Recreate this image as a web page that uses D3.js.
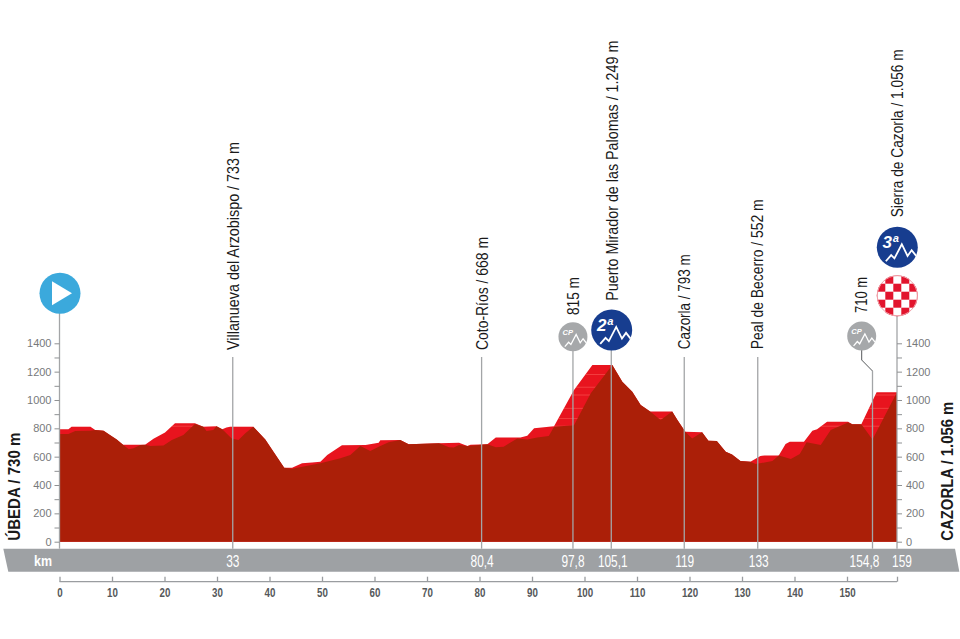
<!DOCTYPE html>
<html>
<head>
<meta charset="utf-8">
<title>Perfil de etapa</title>
<script src="https://cdn.jsdelivr.net/npm/d3@7"></script>
<style>
	html, body { margin: 0; padding: 0; background: #fff; }
	svg { display: block; }
	text { font-family: "Liberation Sans", sans-serif; }
	.elev text { font-size: 11px; fill: #77797b; }
	.elev line { stroke: #8f9193; }
	.kmAxis text { font-size: 12.5px; font-weight: bold; fill: #55585a; }
	.kmAxis line, .kmAxis path { stroke: #9a9da0; stroke-width: 1.3; fill: none; }
</style>
</head>
<body>
<svg id="chart" width="960" height="639"></svg>
<script>
// top outline of the profile (bright red)
const upperKm = [0, 1.7, 2.3, 5.9, 6.8, 8.4, 9.6, 10.9, 12.1, 16.3, 17.9, 20.1, 22, 25.8, 27.4, 29.9, 31, 31.8, 32.5, 36.9, 39.2, 42.8, 44.3, 46.2, 48.1, 49.7, 51, 53.8, 58.3, 60.8, 61.1, 64.9, 66.5, 72.3, 76.1, 77.7, 78.3, 81.5, 83.1, 87.8, 89.1, 90.4, 94.2, 98, 101.5, 105.3, 107.2, 109.1, 110.7, 112.5, 116.7, 117.7, 119.2, 122.4, 123.6, 125.2, 126.9, 128.1, 129.7, 131.6, 133.5, 134.3, 137, 138.3, 139.1, 141.8, 143.4, 144.3, 146.2, 150.2, 151, 152.7, 155.5, 159];
const upperElev = [793, 793, 812, 812, 788, 783, 753, 722, 685, 685, 727, 770, 835, 835, 812, 814, 793, 805, 812, 812, 722, 522, 522, 553, 558, 565, 612, 680, 682, 699, 715, 718, 687, 694, 699, 675, 685, 687, 736, 736, 748, 800, 814, 1070, 1247, 1247, 1129, 1059, 965, 918, 918, 859, 776, 772, 713, 711, 635, 616, 569, 565, 605, 609, 609, 689, 706, 706, 783, 793, 847, 847, 828, 828, 1054, 1054];
// lower edge of the bright facet (dark red front)
const lowerKm = [0, 1.7, 3, 5.9, 6.8, 8.4, 9.6, 10.9, 12.1, 13.2, 14.1, 15.4, 16.3, 17.3, 19.8, 21.4, 23.6, 25.8, 27.4, 28, 29.3, 29.9, 31, 32.8, 34.1, 35.4, 36.9, 39.2, 42.8, 44.3, 49.7, 53.5, 55.4, 57.3, 59.2, 60.8, 62.7, 64.9, 66.5, 72.3, 74.2, 75.1, 76.1, 77.7, 81.5, 83.1, 84.6, 87.2, 89.1, 91, 93.2, 94.2, 98, 101.2, 105.3, 107.2, 109.1, 110.7, 112.5, 114.5, 116.7, 117.7, 119.2, 120.5, 122.4, 123.6, 125.2, 126.9, 128.1, 129.7, 131.6, 132.6, 135.8, 137, 139.3, 141, 142.3, 145, 146.9, 150.2, 151, 152.7, 154.8, 159];
const lowerElev = [760, 760, 781, 783, 788, 783, 753, 722, 685, 652, 659, 682, 685, 675, 678, 718, 753, 830, 812, 781, 788, 814, 793, 729, 718, 765, 812, 722, 522, 515, 553, 588, 612, 675, 640, 670, 701, 718, 687, 694, 666, 664, 682, 675, 687, 666, 670, 729, 722, 736, 746, 812, 821, 1047, 1247, 1129, 1059, 965, 918, 859, 918, 859, 776, 729, 772, 713, 711, 635, 616, 569, 565, 548, 569, 609, 583, 619, 701, 682, 788, 842, 828, 828, 722, 1054];
// faint lines across the bright facet
const facetElev = [1180, 1090, 1035, 941, 870, 815];

const elevTicks = d3.range(0, 1500, 100);
const kmTicks = d3.range(0, 160, 10).concat([159]);

// labelled points along the route
const passKm = [33, 80.4, 97.8, 105.1, 119, 133, 154.8, 159];
const passLabels = ["33", "80,4", "97,8", "105,1", "119", "133", "154,8", "159"];
const labelShift = [0, 0.5, 0, 1.5, 0.5, 1, -8, 5];
const passNames = ["Villanueva del Arzobispo / 733 m", "Coto-Ríos / 668 m", "815 m", "Puerto Mirador de las Palomas / 1.249 m", "Cazorla / 793 m", "Peal de Becerro / 552 m", "710 m", "Sierra de Cazorla / 1.056 m"];
const nameBaseline = [238.5, 487.7, 579.3, 618.3, 690, 763.3, 866.7, 903.3];
const nameBottom = [350, 350, 315, 300.7, 349.3, 349.3, 313, 217.3];
const nameLength = [208, 113, 38, 260, 95, 150, 36, 168];
const lineTops = [357, 357, 351, 350, 357, 357, 371, 316];

const svg = d3.select("#chart");

// the km axis in the original is not quite to scale near the end
const x = d3.scaleLinear().domain([0, 150, 154.8, 159]).range([59.5, 847, 872.5, 897]);
const y = d3.scaleLinear().domain([0, 1400]).range([541.7, 343.3]);
const base = y(0);

const area = d3.area().x(d => x(d[0])).y0(base).y1(d => y(d[1]));
const upperPath = area(d3.zip(upperKm, upperElev));
svg.append("clipPath").attr("id", "facetClip").append("path").attr("d", upperPath);
svg.append("path").attr("d", upperPath).attr("fill", "#e8141e");
svg.append("g").attr("clip-path", "url(#facetClip)").selectAll("line").data(facetElev).enter().append("line")
	.attr("x1", x(0)).attr("x2", x(159))
	.attr("y1", d => y(d)).attr("y2", d => y(d))
	.attr("stroke", "#ff7a70").attr("stroke-width", 0.7).attr("opacity", 0.6);
svg.append("path").attr("d", area(d3.zip(lowerKm, lowerElev))).attr("fill", "#ab1f08");

// grey km band
svg.append("path")
	.attr("d", d3.line()([[3.3, 548.7], [955, 548.7], [959.3, 571.7], [8.3, 571.7]]) + "Z")
	.attr("fill", "#9ea1a4");

// vertical lines from the labels down to the band
const lineColor = "#a3a5a7";
function vline(xPos, top, bottom) {
	svg.append("line").attr("x1", xPos).attr("x2", xPos).attr("y1", top).attr("y2", bottom)
		.attr("stroke", lineColor).attr("stroke-width", 1.3);
}
vline(x(0), 300, 548.7);
passKm.forEach((km, i) => vline(x(km), lineTops[i], 548.7));
svg.append("path").attr("fill", "none").attr("stroke", "#55585a").attr("stroke-width", 1)
	.attr("d", d3.line()([[861.7, 350], [861.7, 360], [x(154.8), 371]]));

// elevation axes
const left = d3.axisLeft(y).tickValues(elevTicks).tickSize(5).tickPadding(3).tickFormat(d => d % 200 ? "" : d);
const right = d3.axisRight(y).tickValues(elevTicks).tickSize(5).tickPadding(4).tickFormat(d => d % 200 ? "" : d);
svg.append("g").attr("class", "elev").attr("transform", "translate(" + x(0) + ",0)").call(left)
	.call(g => g.select(".domain").remove());
svg.append("g").attr("class", "elev").attr("transform", "translate(" + x(159) + ",0)").call(right)
	.call(g => g.select(".domain").remove());

// km axis below the band, labels squeezed like the condensed original
const kmAxis = d3.axisBottom(x).tickValues(kmTicks).tickSize(-5).tickPadding(6).tickFormat(d => d === 159 ? "" : d);
svg.append("g").attr("class", "kmAxis").attr("transform", "translate(0,581.7)").call(kmAxis)
	.call(g => g.select(".domain").attr("d", "M" + x(0) + ",0H" + x(159)))
	.call(g => g.selectAll("text").attr("transform", "scale(0.78,1)"));

// band labels
svg.append("text").attr("transform", "translate(43,566) scale(0.83,1)").attr("text-anchor", "middle")
	.attr("fill", "#fff").attr("font-size", 15).attr("font-weight", "bold").text("km");
svg.selectAll(".passLabel").data(passLabels).enter().append("text")
	.attr("class", "passLabel")
	.attr("transform", (d, i) => "translate(" + (x(passKm[i]) + labelShift[i]) + ",566.5) scale(0.7,1)")
	.attr("text-anchor", "middle")
	.attr("fill", "#fff").attr("font-size", 17).text(d => d);

// rotated names, stretched to the length they have in the original
function vtext(xPos, bottom, str, length, weight) {
	svg.append("text").attr("transform", "translate(" + xPos + "," + bottom + ") rotate(-90)")
		.attr("fill", "#1a1a1a").attr("font-size", 16).attr("font-weight", weight || "normal")
		.attr("textLength", length).attr("lengthAdjust", "spacingAndGlyphs").text(str);
}
passNames.forEach((name, i) => vtext(nameBaseline[i], nameBottom[i], name, nameLength[i]));
vtext(20, 540.7, "ÚBEDA / 730 m", 108, "bold");
vtext(952.7, 540.7, "CAZORLA / 1.056 m", 139, "bold");

// little mountain drawn in white inside a badge, sized by radius
const glyph = [[-0.56, 0.68], [-0.3, 0.38], [-0.14, 0.54], [0.22, -0.15], [0.5, 0.42], [0.7, 0.14], [0.92, 0.42]];
function badge(cx, cy, r, color, label, size, labelY) {
	const g = svg.append("g").attr("transform", "translate(" + cx + "," + cy + ")");
	g.append("circle").attr("r", r).attr("fill", color);
	g.append("path").attr("fill", "none").attr("stroke", "#fff").attr("stroke-width", r > 18 ? 1.8 : 1.3)
		.attr("d", d3.line().x(d => d[0] * r).y(d => d[1] * r)(glyph));
	g.append("text").attr("x", -r * 0.72).attr("y", r * labelY)
		.attr("font-style", "italic").attr("font-weight", "bold")
		.attr("fill", "#fff").attr("font-size", size).text(label);
}
badge(x(97.8), 336.7, 14.5, "#a6a8aa", "CP", 7.5, -0.12);
badge(861.7, 336, 14.5, "#a6a8aa", "CP", 7.5, -0.12);
badge(611.7, 330, 20.5, "#173d8f", "2ª", 17, 0.05);
badge(897.3, 247.3, 20.5, "#173d8f", "3ª", 17, 0.05);

// start flag
const start = svg.append("g").attr("transform", "translate(60,293.3)");
start.append("circle").attr("r", 20.5).attr("fill", "#3ba9dc");
start.append("path").attr("d", d3.line()([[-8, -12], [12, 0], [-8, 12]]) + "Z").attr("fill", "#fff");

// finish flag, checkered
const finish = svg.append("g").attr("transform", "translate(897.3,295.7)");
svg.append("clipPath").attr("id", "finishClip").append("circle").attr("r", 20.5);
const cellSize = 8;
const cells = [];
d3.range(-3, 4).forEach(a => d3.range(-3, 4).forEach(b => cells.push([a, b])));
const checker = finish.append("g").attr("clip-path", "url(#finishClip)");
checker.append("circle").attr("r", 20.5).attr("fill", "#fff");
checker.selectAll("rect").data(cells.filter(c => (c[0] + c[1] + 6) % 2 === 1)).enter().append("rect")
	.attr("x", c => c[0] * cellSize - cellSize / 2)
	.attr("y", c => c[1] * cellSize - cellSize / 2)
	.attr("width", cellSize).attr("height", cellSize).attr("fill", "#e2142d");
finish.append("circle").attr("r", 20).attr("fill", "none").attr("stroke", "#f0a0a8").attr("stroke-width", 1);
</script>
</body>
</html>
